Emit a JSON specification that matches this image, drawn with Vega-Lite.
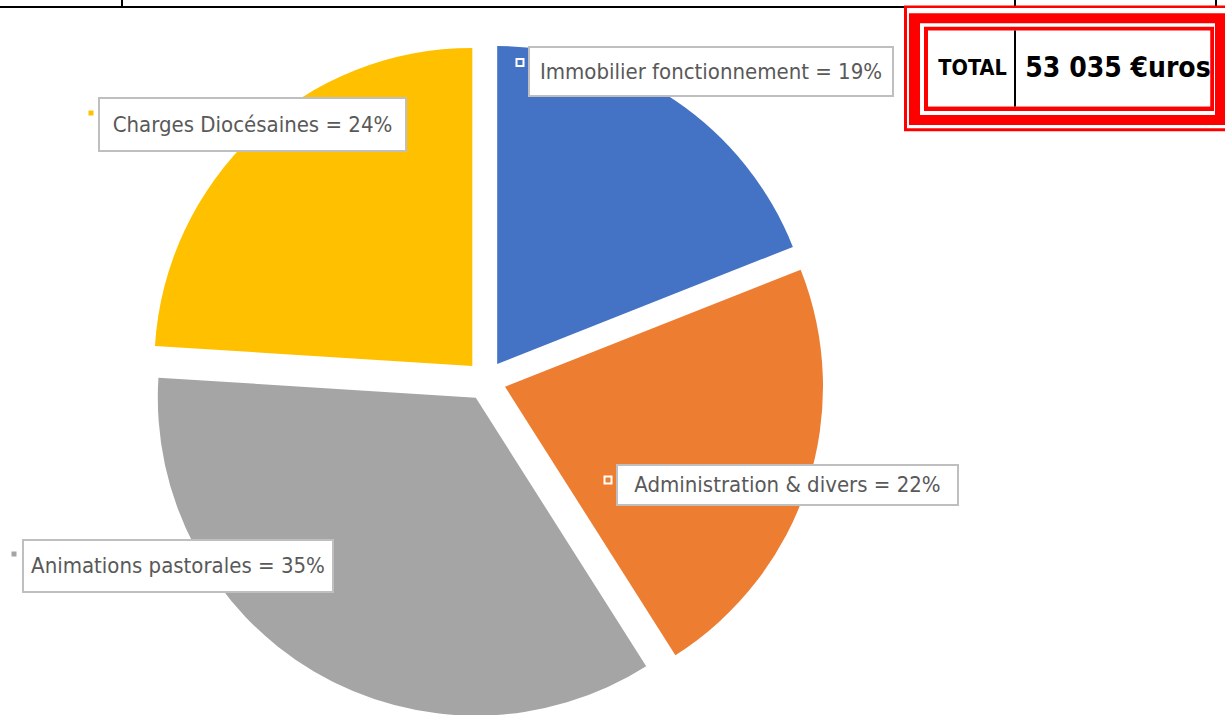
{
  "$schema": "https://vega.github.io/schema/vega-lite/v6.json",
  "background": "white",
  "padding": 0,
  "autosize": {"type": "pad"},
  "bounds": "flush",
  "spacing": 0,
  "config": {"view": {"stroke": null}},
  "datasets": {
    "slices": [
      {"order": 1, "name": "Immobilier fonctionnement", "value": 19, "label": "Immobilier fonctionnement = 19%"},
      {"order": 2, "name": "Administration & divers", "value": 22, "label": "Administration & divers = 22%"},
      {"order": 3, "name": "Animations pastorales", "value": 35, "label": "Animations pastorales = 35%"},
      {"order": 4, "name": "Charges Diocésaines", "value": 24, "label": "Charges  Diocésaines = 24%"}
    ],
    "total": [{"k": "TOTAL", "v": "53 035 €uros"}]
  },
  "hconcat": [
    {
      "spacing": 0,
      "bounds": "flush",
      "vconcat": [
        {"width": 904, "height": 6, "data": {"values": [{}]}, "mark": {"type": "rect", "opacity": 0}, "encoding": {}},
        {"width": 904, "height": 2, "view": {"fill": "#000000", "stroke": null}, "data": {"values": [{}]}, "mark": {"type": "rect", "opacity": 0}, "encoding": {}},
        {"width": 904, "height": 38, "data": {"values": [{}]}, "mark": {"type": "rect", "opacity": 0}, "encoding": {}},
        {
          "spacing": 0,
          "bounds": "flush",
          "hconcat": [
            {"width": 68, "height": 669, "data": {"values": [{}]}, "mark": {"type": "rect", "opacity": 0}, "encoding": {}},
            {
              "width": 836,
              "height": 669,
              "data": {"name": "slices"},
              "transform": [
                {"stack": "value", "groupby": [], "sort": [{"field": "order", "order": "ascending"}], "as": ["v0", "v1"]}
              ],
              "encoding": {
                "color": {
                  "field": "name", "type": "nominal", "legend": null,
                  "scale": {
                    "domain": ["Immobilier fonctionnement", "Administration & divers", "Animations pastorales", "Charges Diocésaines"],
                    "range": ["#4472C4", "#ED7D31", "#A5A5A5", "#FFC000"]
                  }
                }
              },
              "layer": [
                {
                  "transform": [{"filter": "datum.order == 1"}],
                  "mark": {"type": "arc", "radius": 318, "xOffset": 11.2, "yOffset": -16.5, "clip": true},
                  "encoding": {"theta": {"field": "v0", "type": "quantitative", "scale": {"domain": [0, 100]}}, "theta2": {"field": "v1"}}
                },
                {
                  "transform": [{"filter": "datum.order == 2"}],
                  "mark": {"type": "arc", "radius": 318, "xOffset": 19.0, "yOffset": 6.2, "clip": true},
                  "encoding": {"theta": {"field": "v0", "type": "quantitative", "scale": {"domain": [0, 100]}}, "theta2": {"field": "v1"}}
                },
                {
                  "transform": [{"filter": "datum.order == 3"}],
                  "mark": {"type": "arc", "radius": 318, "xOffset": -10.2, "yOffset": 17.2, "clip": true},
                  "encoding": {"theta": {"field": "v0", "type": "quantitative", "scale": {"domain": [0, 100]}}, "theta2": {"field": "v1"}}
                },
                {
                  "transform": [{"filter": "datum.order == 4"}],
                  "mark": {"type": "arc", "radius": 318, "xOffset": -13.7, "yOffset": -14.6, "clip": true},
                  "encoding": {"theta": {"field": "v0", "type": "quantitative", "scale": {"domain": [0, 100]}}, "theta2": {"field": "v1"}}
                }
              ]
            }
          ]
        }
      ]
    },
    {
      "spacing": 0,
      "bounds": "flush",
      "hconcat": [
        {"width": 121, "height": 1, "data": {"values": [{}]}, "mark": {"type": "rect", "opacity": 0}, "encoding": {}},
        {"width": 2, "height": 6, "view": {"fill": "#000000", "stroke": null}, "data": {"values": [{}]}, "mark": {"type": "rect", "opacity": 0}, "encoding": {}},
        {"width": 891, "height": 1, "data": {"values": [{}]}, "mark": {"type": "rect", "opacity": 0}, "encoding": {}},
        {"width": 2, "height": 6, "view": {"fill": "#000000", "stroke": null}, "data": {"values": [{}]}, "mark": {"type": "rect", "opacity": 0}, "encoding": {}},
        {"width": 199, "height": 1, "data": {"values": [{}]}, "mark": {"type": "rect", "opacity": 0}, "encoding": {}},
        {"width": 2, "height": 6, "view": {"fill": "#000000", "stroke": null}, "data": {"values": [{}]}, "mark": {"type": "rect", "opacity": 0}, "encoding": {}}
      ]
    },
    {
      "spacing": 0,
      "bounds": "flush",
      "vconcat": [
        {"width": 10, "height": 47, "data": {"values": [{}]}, "mark": {"type": "rect", "opacity": 0}, "encoding": {}},
        {
          "spacing": 0,
          "bounds": "flush",
          "hconcat": [
            {"width": 529, "height": 10, "data": {"values": [{}]}, "mark": {"type": "rect", "opacity": 0}, "encoding": {}},
            {
              "width": 364, "height": 49,
              "view": {"fill": "#FFFFFF", "stroke": "#BFBFBF", "strokeWidth": 2},
              "data": {"name": "slices"},
              "transform": [{"filter": "datum.order == 1"}],
              "layer": [
                {"mark": {"type": "text", "font": "DejaVu Sans Condensed", "fontSize": 22, "align": "center", "baseline": "middle"}, "encoding": {"text": {"field": "label"}, "color": {"value": "#595959"}}},
                {"mark": {"type": "square", "size": 49, "filled": true, "opacity": 1, "stroke": "#FFFFFF", "strokeWidth": 2, "xOffset": -191, "yOffset": -9},
                 "encoding": {"color": {"field": "name", "type": "nominal", "legend": null, "scale": {"domain": ["Immobilier fonctionnement", "Administration & divers", "Animations pastorales", "Charges Diocésaines"], "range": ["#4472C4", "#ED7D31", "#A5A5A5", "#FFC000"]}}}}
              ]
            }
          ]
        }
      ]
    },
    {
      "spacing": 0,
      "bounds": "flush",
      "vconcat": [
        {"width": 10, "height": 98, "data": {"values": [{}]}, "mark": {"type": "rect", "opacity": 0}, "encoding": {}},
        {
          "spacing": 0,
          "bounds": "flush",
          "hconcat": [
            {"width": 99, "height": 10, "data": {"values": [{}]}, "mark": {"type": "rect", "opacity": 0}, "encoding": {}},
            {
              "width": 307, "height": 53,
              "view": {"fill": "#FFFFFF", "stroke": "#BFBFBF", "strokeWidth": 2},
              "data": {"name": "slices"},
              "transform": [{"filter": "datum.order == 4"}],
              "layer": [
                {"mark": {"type": "text", "font": "DejaVu Sans Condensed", "fontSize": 22, "align": "center", "baseline": "middle"}, "encoding": {"text": {"field": "label"}, "color": {"value": "#595959"}}},
                {"mark": {"type": "square", "size": 49, "filled": true, "opacity": 1, "stroke": "#FFFFFF", "strokeWidth": 2, "xOffset": -161.5, "yOffset": -11.5},
                 "encoding": {"color": {"field": "name", "type": "nominal", "legend": null, "scale": {"domain": ["Immobilier fonctionnement", "Administration & divers", "Animations pastorales", "Charges Diocésaines"], "range": ["#4472C4", "#ED7D31", "#A5A5A5", "#FFC000"]}}}}
              ]
            }
          ]
        }
      ]
    },
    {
      "spacing": 0,
      "bounds": "flush",
      "vconcat": [
        {"width": 10, "height": 465, "data": {"values": [{}]}, "mark": {"type": "rect", "opacity": 0}, "encoding": {}},
        {
          "spacing": 0,
          "bounds": "flush",
          "hconcat": [
            {"width": 617, "height": 10, "data": {"values": [{}]}, "mark": {"type": "rect", "opacity": 0}, "encoding": {}},
            {
              "width": 341, "height": 40,
              "view": {"fill": "#FFFFFF", "stroke": "#BFBFBF", "strokeWidth": 2},
              "data": {"name": "slices"},
              "transform": [{"filter": "datum.order == 2"}],
              "layer": [
                {"mark": {"type": "text", "font": "DejaVu Sans Condensed", "fontSize": 22, "align": "center", "baseline": "middle"}, "encoding": {"text": {"field": "label"}, "color": {"value": "#595959"}}},
                {"mark": {"type": "square", "size": 49, "filled": true, "opacity": 1, "stroke": "#FFFFFF", "strokeWidth": 2, "xOffset": -179.5, "yOffset": -5},
                 "encoding": {"color": {"field": "name", "type": "nominal", "legend": null, "scale": {"domain": ["Immobilier fonctionnement", "Administration & divers", "Animations pastorales", "Charges Diocésaines"], "range": ["#4472C4", "#ED7D31", "#A5A5A5", "#FFC000"]}}}}
              ]
            }
          ]
        }
      ]
    },
    {
      "spacing": 0,
      "bounds": "flush",
      "vconcat": [
        {"width": 10, "height": 540, "data": {"values": [{}]}, "mark": {"type": "rect", "opacity": 0}, "encoding": {}},
        {
          "spacing": 0,
          "bounds": "flush",
          "hconcat": [
            {"width": 23, "height": 10, "data": {"values": [{}]}, "mark": {"type": "rect", "opacity": 0}, "encoding": {}},
            {
              "width": 310, "height": 52,
              "view": {"fill": "#FFFFFF", "stroke": "#BFBFBF", "strokeWidth": 2},
              "data": {"name": "slices"},
              "transform": [{"filter": "datum.order == 3"}],
              "layer": [
                {"mark": {"type": "text", "font": "DejaVu Sans Condensed", "fontSize": 22, "align": "center", "baseline": "middle"}, "encoding": {"text": {"field": "label"}, "color": {"value": "#595959"}}},
                {"mark": {"type": "square", "size": 49, "filled": true, "opacity": 1, "stroke": "#FFFFFF", "strokeWidth": 2, "xOffset": -164, "yOffset": -12},
                 "encoding": {"color": {"field": "name", "type": "nominal", "legend": null, "scale": {"domain": ["Immobilier fonctionnement", "Administration & divers", "Animations pastorales", "Charges Diocésaines"], "range": ["#4472C4", "#ED7D31", "#A5A5A5", "#FFC000"]}}}}
              ]
            }
          ]
        }
      ]
    },
    {"width": 904, "height": 1, "data": {"values": [{}]}, "mark": {"type": "rect", "opacity": 0}, "encoding": {}},
    {
      "spacing": 0,
      "bounds": "flush",
      "hconcat": [
        {"spacing": 0, "bounds": "flush", "hconcat": [
          {"width": 321, "height": 131.5, "data": {"values": [{}]},
           "mark": {"type": "rect", "color": "#FF0000", "filled": true, "opacity": 1, "yOffset": 5.5, "clip": true}, "encoding": {}}
        ]},
        {"spacing": 0, "bounds": "flush", "hconcat": [
          {"width": 2.5, "height": 1, "data": {"values": [{}]}, "mark": {"type": "rect", "opacity": 0}, "encoding": {}},
          {"width": 318.5, "height": 128.5, "data": {"values": [{}]},
           "mark": {"type": "rect", "color": "#FFFFFF", "filled": true, "opacity": 1, "yOffset": 8, "clip": true}, "encoding": {}}
        ]},
        {"spacing": 0, "bounds": "flush", "hconcat": [
          {"width": 4.5, "height": 1, "data": {"values": [{}]}, "mark": {"type": "rect", "opacity": 0}, "encoding": {}},
          {"width": 316.5, "height": 125, "data": {"values": [{}]},
           "mark": {"type": "rect", "color": "#FF0000", "filled": true, "opacity": 1, "yOffset": 13.3, "clip": true}, "encoding": {}}
        ]},
        {"spacing": 0, "bounds": "flush", "hconcat": [
          {"width": 16, "height": 1, "data": {"values": [{}]}, "mark": {"type": "rect", "opacity": 0}, "encoding": {}},
          {"width": 295, "height": 115, "data": {"values": [{}]},
           "mark": {"type": "rect", "color": "#FFFFFF", "filled": true, "opacity": 1, "yOffset": 23.3, "clip": true}, "encoding": {}}
        ]},
        {"spacing": 0, "bounds": "flush", "hconcat": [
          {"width": 19.5, "height": 1, "data": {"values": [{}]}, "mark": {"type": "rect", "opacity": 0}, "encoding": {}},
          {"width": 290, "height": 111, "data": {"values": [{}]},
           "mark": {"type": "rect", "color": "#FF0000", "filled": true, "opacity": 1, "yOffset": 26.7, "clip": true}, "encoding": {}}
        ]},
        {"spacing": 0, "bounds": "flush", "hconcat": [
          {"width": 23.5, "height": 1, "data": {"values": [{}]}, "mark": {"type": "rect", "opacity": 0}, "encoding": {}},
          {
            "width": 282.5, "height": 106.7,
            "data": {"name": "total"},
            "layer": [
              {"mark": {"type": "rect", "color": "#FFFFFF", "filled": true, "opacity": 1, "yOffset": 30.5, "clip": true}, "encoding": {}},
              {"mark": {"type": "text", "font": "DejaVu Sans Condensed", "fontWeight": "bold", "fontSize": 21.5, "color": "#000000", "align": "center", "baseline": "middle", "dx": -96.75, "dy": 16}, "encoding": {"text": {"field": "k"}}},
              {"mark": {"type": "text", "font": "DejaVu Sans Condensed", "fontWeight": "bold", "fontSize": 28, "color": "#000000", "align": "center", "baseline": "middle", "dx": 48.75, "dy": 16}, "encoding": {"text": {"field": "v"}}}
            ]
          }
        ]},
        {"spacing": 0, "bounds": "flush", "hconcat": [
          {"width": 110, "height": 1, "data": {"values": [{}]}, "mark": {"type": "rect", "opacity": 0}, "encoding": {}},
          {"width": 2, "height": 106.7, "data": {"values": [{}]},
           "mark": {"type": "rect", "color": "#000000", "filled": true, "opacity": 1, "yOffset": 30.5, "clip": true}, "encoding": {}}
        ]}
      ]
    }
  ]
}
